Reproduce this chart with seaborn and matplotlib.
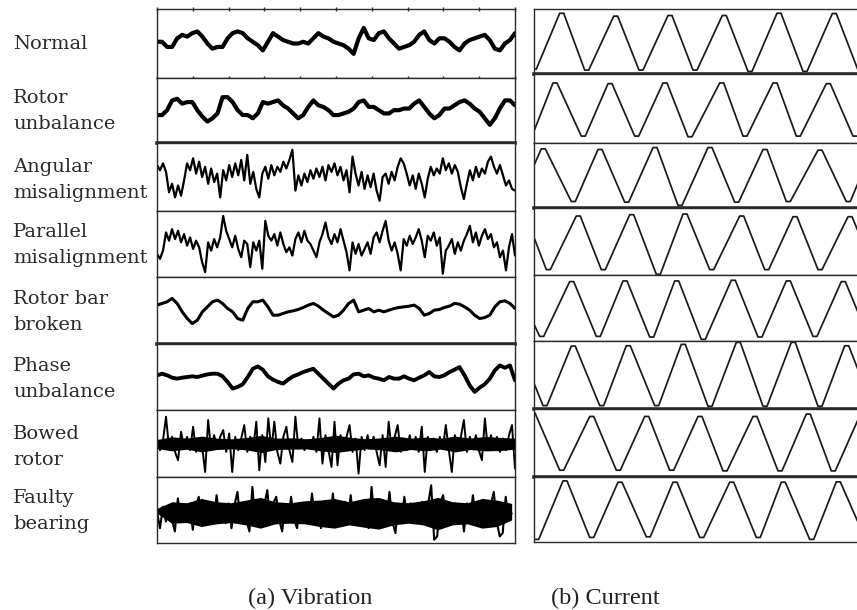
import numpy as np
import matplotlib
matplotlib.use("Agg")
import matplotlib.pyplot as plt
import seaborn as sns

# ---------------- data ----------------
labels = ["Normal", "Rotor\nunbalance", "Angular\nmisalignment", "Parallel\nmisalignment",
          "Rotor bar\nbroken", "Phase\nunbalance", "Bowed\nrotor", "Faulty\nbearing"]
captions = ["(a) Vibration", "(b) Current"]

vib_normal = [0.05, 0.05, -0.10, -0.10, 0.15, 0.25, 0.20, 0.30, 0.35, 0.20,
              0.00, -0.15, -0.10, -0.10, 0.15, 0.30, 0.35, 0.30, 0.15, 0.05,
              -0.05, -0.20, 0.05, 0.30, 0.20, 0.10, 0.05, 0.00, 0.00, 0.05,
              0.00, 0.15, 0.30, 0.20, 0.15, 0.05, 0.00, -0.05, -0.15, -0.30,
              0.15, 0.45, 0.15, 0.10, 0.30, 0.35, 0.15, 0.00, -0.15, -0.10,
              -0.05, 0.05, 0.25, 0.35, 0.10, 0.00, 0.15, 0.15, 0.05, -0.10,
              -0.20, 0.00, 0.10, 0.15, 0.20, 0.25, 0.10, -0.15, -0.20, 0.00,
              0.10, 0.30]

vib_rotor_unbalance = [-0.14, -0.14, 0.01, 0.31, 0.36, 0.21, 0.26, 0.26, 0.01, -0.19,
                       -0.34, -0.24, -0.09, 0.41, 0.41, 0.26, 0.01, -0.14, -0.14, -0.24,
                       -0.09, 0.26, 0.21, 0.26, 0.31, 0.16, 0.06, -0.09, -0.24, -0.14,
                       0.11, 0.31, 0.16, 0.11, 0.01, -0.14, -0.14, -0.09, -0.04, 0.06,
                       0.26, 0.31, 0.11, 0.11, 0.01, -0.09, -0.09, 0.01, 0.01, 0.06,
                       0.06, 0.21, 0.31, 0.11, -0.09, -0.24, -0.14, 0.06, 0.06, 0.16,
                       0.26, 0.31, 0.21, 0.06, -0.04, -0.24, -0.44, -0.24, 0.06, 0.31,
                       0.31, 0.16]

vib_angular = [0.35, 0.20, 0.40, 0.15,
               -0.45, -0.20, -0.60, -0.25, -0.55, -0.10,
               0.40, 0.20, 0.55, 0.10, 0.45, 0.00,
               0.30, -0.20, 0.25, -0.15, 0.10, -0.60,
               0.20, -0.10, 0.35, 0.00, 0.40, 0.05, 0.50, -0.10, 0.65,
               -0.20, 0.15, -0.35, -0.60,
               0.10, 0.30, -0.05, 0.35, 0.05, 0.30, 0.15, 0.45, 0.25, 0.50,
               0.80, -0.40,
               0.05, -0.25, 0.10, -0.15, 0.20, -0.05, 0.25, 0.00, 0.30, -0.10, 0.35, 0.15, 0.40, 0.05,
               0.30, -0.10, 0.20, -0.45,
               0.60, 0.10,
               -0.25, 0.15, -0.35, 0.05, -0.30, 0.10, -0.40, -0.70, 0.00,
               0.10, -0.20, 0.15, -0.10, 0.30,
               0.55, 0.40,
               0.10, -0.25, 0.05, -0.35, 0.10, -0.20, -0.60, -0.05,
               0.30, 0.05, 0.25, 0.10,
               0.55, 0.20, 0.40, 0.10, 0.35, 0.15,
               -0.30, -0.65, -0.20,
               0.20, -0.10, 0.30, 0.00, 0.25, 0.10,
               0.45, 0.60,
               0.30, 0.10, 0.35, 0.05,
               -0.25, -0.10, -0.35, -0.40]

vib_parallel = [-0.30, -0.45, -0.20,
                0.35, 0.10, 0.45, 0.15, 0.40, 0.05, 0.30,
                -0.05, 0.20, -0.15, 0.10, -0.10,
                -0.55, -0.85,
                0.05, -0.20, 0.15, -0.10, 0.20,
                0.85, 0.40,
                0.15, -0.10, 0.25, -0.15, -0.40,
                0.10, 0.00, -0.70,
                0.05, -0.20, 0.10, -0.75,
                0.70, 0.25,
                0.10, 0.30, -0.05, 0.35, 0.00,
                -0.25, -0.10, -0.35,
                0.15, 0.35, 0.05, 0.40, 0.10,
                0.00, -0.20, -0.40, 0.05,
                0.30, 0.65,
                0.20, 0.00, 0.30, 0.05, 0.45,
                0.10, -0.25, -0.80, 0.05, -0.30, 0.00, -0.35,
                -0.15, 0.05, -0.30,
                0.20, 0.35, 0.05, 0.40, 0.70,
                0.10, -0.20, 0.05, -0.30, -0.80,
                0.15, -0.05, 0.25, 0.00, 0.20,
                0.45, 0.10, -0.40, 0.25,
                0.10, 0.35, -0.05, 0.20,
                -0.90, -0.20,
                -0.05, 0.15, -0.30, 0.05, -0.20,
                0.10, 0.30, 0.55, 0.05, 0.35, -0.05, 0.25,
                0.45, 0.15, 0.30, -0.10,
                0.05, -0.40, -0.20,
                -0.80, -0.10, 0.30, -0.35]

vib_rotor_bar = [0.16, 0.21, 0.26, 0.36, 0.21, -0.04, -0.24, -0.39, -0.29, -0.04,
                 0.11, 0.26, 0.31, 0.21, 0.06, -0.04, -0.24, -0.29, 0.06, 0.26,
                 0.26, 0.31, 0.11, -0.14, -0.14, -0.09, -0.04, -0.01, 0.03, 0.09,
                 0.16, 0.21, 0.13, 0.01, -0.09, -0.19, -0.14, 0.01, 0.21, 0.31,
                 -0.04, 0.01, 0.06, -0.04, 0.01, -0.04, 0.01, 0.06, 0.09, 0.11,
                 0.13, 0.16, 0.06, -0.14, -0.09, 0.01, 0.03, 0.09, 0.13, 0.21,
                 0.19, 0.11, 0.01, -0.14, -0.24, -0.21, -0.14, 0.11, 0.26, 0.29,
                 0.21, 0.06]

vib_phase = [0.05, 0.10, 0.05, -0.02, -0.05, -0.02, 0.00, 0.02, 0.00, 0.04,
             0.08, 0.10, 0.10, 0.02, -0.15, -0.35, -0.30, -0.22, 0.00, 0.25,
             0.32, 0.22, 0.02, -0.08, -0.15, -0.20, -0.08, 0.02, 0.08, 0.15,
             0.20, 0.25, 0.10, -0.05, -0.20, -0.35, -0.20, -0.10, -0.05, 0.08,
             0.10, 0.02, 0.05, -0.02, -0.05, -0.10, 0.00, -0.05, -0.05, 0.02,
             -0.05, -0.10, -0.02, 0.05, 0.15, 0.02, 0.00, 0.05, 0.15, 0.22,
             0.30, 0.05, -0.25, -0.45, -0.32, -0.22, -0.05, 0.20, 0.35, 0.28,
             0.35, -0.10]

vib_bowed = [0.15, -0.20, 0.10, 0.80, -0.15, 0.20, -0.25, -0.50, 0.35, -0.15,
             0.20, -0.20, 0.50, -0.25, 0.15, -0.10, -0.85, 0.70, -0.20, 0.25,
             -0.15, 0.20, 0.40, -0.25, 0.30, -0.85, 0.20, -0.20, 0.15, 0.55,
             -0.25, 0.20, -0.15, 0.65, -0.80, 0.25, -0.55, 0.75, -0.20, 0.65,
             -0.25, -0.60, 0.20, 0.50, -0.20, -0.55, 0.80, -0.15, 0.15, -0.20,
             0.10, -0.15, 0.20, -0.25, 0.75, -0.60, 0.25, -0.20, -0.70, 0.65,
             -0.65, 0.25, -0.20, 0.20, 0.55, -0.25, 0.15, -0.90, 0.20, -0.20,
             0.25, -0.15, 0.20, -0.25, -0.65, 0.25, -0.70, 0.65, -0.20, 0.20,
             0.55, -0.25, 0.15, -0.20, 0.25, -0.15, 0.20, -0.25, 0.50, -0.85,
             0.20, -0.20, 0.15, -0.25, 0.20, -0.15, 0.55, -0.20, -0.85, 0.25,
             -0.20, 0.20, 0.70, -0.25, 0.20, -0.15, 0.25, -0.20, -0.50, 0.75,
             -0.20, 0.25, -0.15, 0.20, -0.25, 0.15, -0.20, 0.25, 0.55, -0.75]

vib_faulty = [-0.05, -0.55, 0.10, -0.35, 0.15, -0.30, -0.65, 0.35, -0.30, 0.10,
              -0.35, 0.15, -0.60, 0.10, 0.40, -0.35, 0.15, -0.30, 0.20, -0.35,
              0.45, -0.30, 0.15, -0.40, 0.20, -0.55, 0.15, 0.55, -0.35, 0.20,
              -0.30, -0.65, 0.70, -0.35, 0.20, -0.40, 0.15, 0.60, -0.35, 0.20,
              0.40, -0.30, -0.65, 0.15, -0.35, 0.40, -0.30, -0.55, 0.10, -0.30,
              0.15, -0.35, 0.50, -0.30, 0.20, -0.55, 0.15, -0.35, -0.50, 0.50,
              -0.35, 0.20, -0.40, 0.25, -0.35, 0.45, -0.40, 0.20, -0.35, 0.15,
              -0.30, -0.55, 0.70, -0.35, 0.20, -0.40, 0.15, -0.30, 0.55, -0.35,
              -0.70, 0.15, -0.30, 0.40, -0.35, 0.20, -0.40, 0.15, -0.35, 0.25,
              -0.40, 0.20, 0.75, -0.90, -0.80, 0.20, 0.45, -0.35, 0.15, -0.30,
              0.20, -0.35, 0.15, -0.65, 0.20, -0.35, 0.45, -0.30, 0.15, -0.35,
              0.20, -0.40, 0.15, 0.55, -0.35, -0.80, -0.70, 0.40, -0.30, -0.10]

# dense core envelope of the broadband signals (upper / lower edge of the black band)
bowed_core_hi = [0.12, 0.20, 0.16, 0.22, 0.16, 0.14, 0.18, 0.24, 0.16, 0.17, 0.14, 0.18, 0.25,
                 0.18, 0.14, 0.17, 0.22, 0.16, 0.19, 0.16, 0.22, 0.16, 0.21, 0.18, 0.16]
bowed_core_lo = [-0.15, -0.22, -0.17, -0.25, -0.18, -0.16, -0.19, -0.27, -0.18, -0.17, -0.16, -0.22, -0.27,
                 -0.21, -0.16, -0.19, -0.25, -0.18, -0.22, -0.17, -0.25, -0.18, -0.22, -0.21, -0.17]
faulty_core_hi = [0.05, 0.25, 0.22, 0.35, 0.25, 0.22, 0.30, 0.38, 0.25, 0.22, 0.28, 0.30, 0.35,
                  0.25, 0.35, 0.38, 0.25, 0.22, 0.28, 0.38, 0.25, 0.22, 0.35, 0.30, 0.20]
faulty_core_lo = [-0.10, -0.40, -0.38, -0.50, -0.42, -0.38, -0.45, -0.55, -0.42, -0.40, -0.42, -0.50, -0.55,
                  -0.45, -0.52, -0.58, -0.45, -0.40, -0.45, -0.60, -0.45, -0.42, -0.55, -0.50, -0.30]

# current waveforms: turning points (peaks / troughs), x in samples, y normalised
cur_normal_x = [0.3, 27.7, 52.7, 81.7, 107, 136, 161, 190.3, 216, 245, 271, 300.3, 326]
cur_normal_y = [-0.85, 0.87, -0.88, 0.78, -0.88, 0.80, -0.88, 0.80, -0.92, 0.87, -0.92, 0.86, -0.88]
cur_rotor_unb_x = [-4, 21, 49.3, 76, 102.7, 131, 156, 187.7, 211, 241, 264.3, 294.3, 321]
cur_rotor_unb_y = [-0.80, 0.74, -0.80, 0.72, -0.80, 0.74, -0.82, 0.74, -0.80, 0.74, -0.80, 0.72, -0.80]
cur_angular_x = [-18, 9.3, 39.3, 66, 92.7, 121, 146, 176, 202.7, 231, 254.3, 286, 314.3, 340]
cur_angular_y = [-0.80, 0.82, -0.80, 0.80, -0.82, 0.86, -0.92, 0.86, -0.82, 0.80, -0.80, 0.78, -0.80, 0.80]
cur_parallel_x = [-10, 14.3, 44.3, 69.3, 97.7, 124.3, 151, 177.7, 207.7, 232.7, 261, 286, 316, 342]
cur_parallel_y = [0.75, -0.84, 0.76, -0.84, 0.80, -0.98, 0.82, -0.84, 0.76, -0.84, 0.74, -0.84, 0.74, -0.84]
cur_rotor_bar_x = [-22, 7.7, 37.7, 64.3, 91, 117.7, 142.7, 169.3, 199.3, 226, 254.3, 281, 309.3, 336]
cur_rotor_bar_y = [0.80, -0.86, 0.80, -0.86, 0.82, -0.88, 0.82, -0.95, 0.84, -0.88, 0.82, -0.86, 0.80, -0.86]
cur_phase_x = [-17, 11, 39.3, 67.7, 94.3, 122.7, 149.3, 176, 204.3, 231, 259.3, 286, 312.7, 340]
cur_phase_y = [0.85, -0.90, 0.85, -0.90, 0.86, -0.90, 0.90, -0.92, 0.96, -0.92, 0.96, -0.92, 0.86, -0.90]
cur_bowed_x = [-1, 27.7, 57.7, 84.3, 112.7, 137.7, 166, 191, 221, 246, 274.3, 299.3, 327.7]
cur_bowed_y = [0.88, -0.80, 0.78, -0.80, 0.78, -0.80, 0.78, -0.82, 0.78, -0.82, 0.85, -0.82, 0.80]
cur_faulty_x = [2.7, 31, 57.7, 86, 114.3, 141, 167.7, 197.7, 224.3, 249.3, 277.7, 304.3, 332.7]
cur_faulty_y = [-0.92, 0.88, -0.86, 0.84, -0.84, 0.84, -0.86, 0.84, -0.86, 0.84, -0.92, 0.85, -0.86]

vib_series = [vib_normal, vib_rotor_unbalance, vib_angular, vib_parallel,
              vib_rotor_bar, vib_phase, vib_bowed, vib_faulty]
core_bands = {6: (bowed_core_hi, bowed_core_lo), 7: (faulty_core_hi, faulty_core_lo)}
cur_series = [(cur_normal_x, cur_normal_y), (cur_rotor_unb_x, cur_rotor_unb_y),
              (cur_angular_x, cur_angular_y), (cur_parallel_x, cur_parallel_y),
              (cur_rotor_bar_x, cur_rotor_bar_y), (cur_phase_x, cur_phase_y),
              (cur_bowed_x, cur_bowed_y), (cur_faulty_x, cur_faulty_y)]

# ---------------- style / layout ----------------
sns.set_theme(style="white")
W, H = 857, 610
fig = plt.figure(figsize=(W / 100, H / 100), dpi=100)

left_rows = [9, 78, 143, 211, 277, 344, 410, 477, 543]
right_rows = [9, 74, 143, 208, 275, 341, 409, 477, 542]
LX0, LX1 = 157, 515
RX0, RX1 = 534, 870
vib_lw = [3.0, 3.0, 1.6, 1.6, 2.2, 2.8, 1.4, 1.5]
vib_end = [1, 1, 1, 1, 1, 1, 1, 1060 / 1070]
left_thick = {1, 4}
right_thick = {0, 2, 5, 6}
label_y = [44, 111, 180, 245, 312, 379, 447, 511]
SPINE = "#2a2a2a"
FLAT = 4.0


def rect(x0, x1, yt, yb):
    return [x0 / W, 1 - yb / H, (x1 - x0) / W, (yb - yt) / H]


for i in range(8):
    # vibration
    ax = fig.add_axes(rect(LX0, LX1, left_rows[i], left_rows[i + 1]))
    v = np.asarray(vib_series[i])
    xs = np.arange(len(v))
    if i in core_bands:
        hi, lo = core_bands[i]
        bx = np.linspace(0, len(v) - 1, len(hi))
        ax.fill_between(bx, lo, hi, color="black", linewidth=0)
    sns.lineplot(x=xs, y=v, ax=ax, color="black", linewidth=vib_lw[i],
                 estimator=None, sort=False)
    ax.set_xlim(0, (len(v) - 1) / vib_end[i])
    ax.set_ylim(-1, 1)
    ax.set_xlabel("")
    ax.set_ylabel("")
    ax.set_yticks([])
    if i == 0:
        lo_, hi_ = ax.get_xlim()
        ax.set_xticks(np.linspace(lo_, hi_, 11))
        ax.tick_params(axis="x", top=True, bottom=True, direction="inout",
                       length=3, width=1, color=SPINE,
                       labelbottom=False, labeltop=False)
    else:
        ax.set_xticks([])
    for s in ax.spines.values():
        s.set_color(SPINE)
        s.set_linewidth(1.0)
    if i in left_thick:
        ax.spines["bottom"].set_linewidth(2.6)

    # current
    axr = fig.add_axes(rect(RX0, RX1, right_rows[i], right_rows[i + 1]))
    tx, ty = cur_series[i]
    px, py = [], []
    for x, y in zip(tx, ty):
        px += [x - FLAT / 2, x + FLAT / 2]
        py += [y, y]
    sns.lineplot(x=px, y=py, ax=axr, color="#1a1a1a", linewidth=1.25,
                 estimator=None, sort=False)
    axr.set_xlim(0, RX1 - RX0)
    axr.set_ylim(-1, 1)
    axr.set_xticks([])
    axr.set_yticks([])
    axr.set_xlabel("")
    axr.set_ylabel("")
    for s in axr.spines.values():
        s.set_color(SPINE)
        s.set_linewidth(1.0)
    if i in right_thick:
        axr.spines["bottom"].set_linewidth(2.6)

    fig.text(13 / W, 1 - label_y[i] / H, labels[i], ha="left", va="center",
             fontsize=14, family="DejaVu Serif", linespacing=1.55, color="#2a2a2a")

fig.text(310 / W, 1 - 598 / H, captions[0], ha="center", va="center",
         fontsize=17.5, family="Liberation Serif", color="#222222")
fig.text(605 / W, 1 - 598 / H, captions[1], ha="center", va="center",
         fontsize=17.5, family="Liberation Serif", color="#222222")

fig.savefig("out.png", dpi=100)
